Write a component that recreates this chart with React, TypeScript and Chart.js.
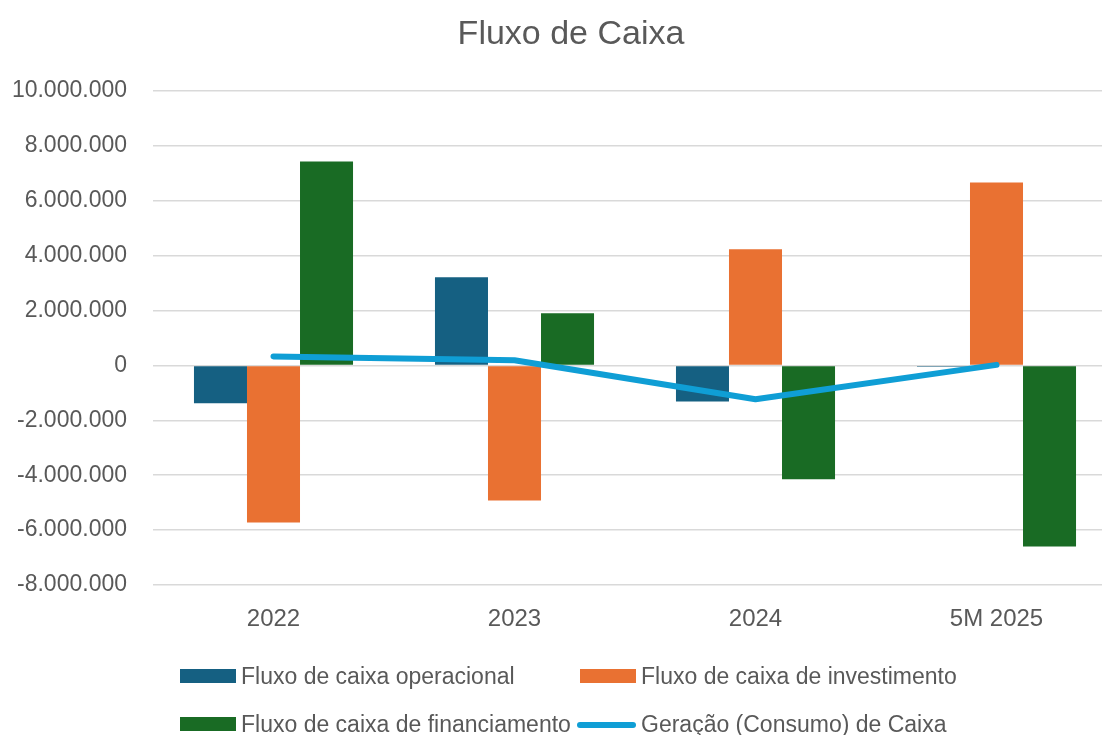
import React, { useEffect, useRef } from "react";
import { Chart, registerables } from "chart.js";

Chart.register(...registerables);

const categories = ["2022", "2023", "2024", "5M 2025"];
const operacional = [-1380000, 3210000, -1310000, -50000];
const investimento = [-5720000, -4920000, 4230000, 6670000];
const financiamento = [7430000, 1900000, -4150000, -6600000];
const geracao = [330000, 190000, -1230000, 20000];
const seriesNames = [
  "Fluxo de caixa operacional",
  "Fluxo de caixa de investimento",
  "Fluxo de caixa de financiamento",
  "Geração (Consumo) de Caixa",
];
const chartTitle = "Fluxo de Caixa";
const yMin = -8000000;
const yMax = 10000000;
const yStep = 2000000;

const FONT = "'Liberation Sans', Arial, sans-serif";
const TEXT = "#595959";
const C_OP = "#156082";
const C_INV = "#E97132";
const C_FIN = "#196B24";
const C_LINE = "#0F9ED5";

function fmt(v: number): string {
  const s = Math.abs(v).toString().replace(/\B(?=(\d{3})+(?!\d))/g, ".");
  return (v < 0 ? "-" : "") + s;
}

export default function App() {
  const ref = useRef<HTMLCanvasElement | null>(null);
  useEffect(() => {
    if (!ref.current) return;
    const chart = new Chart(ref.current, {
      type: "bar",
      data: {
        labels: categories,
        datasets: [
          { type: "line", label: seriesNames[3], data: geracao, borderColor: C_LINE, backgroundColor: C_LINE, borderWidth: 6, pointRadius: 0, borderCapStyle: "round", borderJoinStyle: "round", order: 0 } as any,
          { label: seriesNames[0], data: operacional, backgroundColor: C_OP, order: 1 },
          { label: seriesNames[1], data: investimento, backgroundColor: C_INV, order: 1 },
          { label: seriesNames[2], data: financiamento, backgroundColor: C_FIN, order: 1 },
        ],
      },
      options: {
        animation: false,
        responsive: false,
        devicePixelRatio: 1,
        datasets: { bar: { barPercentage: 1, categoryPercentage: 0.66 } },
        layout: { padding: { left: 0, right: 23, top: 91, bottom: 0 } },
        plugins: {
          legend: { display: false },
          tooltip: { enabled: false },
          title: { display: false },
        },
        scales: {
          x: {
            grid: { display: false, drawTicks: false },
            border: { display: false },
            ticks: { color: TEXT, font: { family: FONT, size: 24 }, padding: 20 },
            afterFit: (s: any) => { s.height = 150; },
          },
          y: {
            min: yMin,
            max: yMax,
            grid: { color: "#D9D9D9", lineWidth: 1.5, drawTicks: false },
            border: { display: false },
            ticks: {
              stepSize: yStep,
              color: TEXT,
              font: { family: FONT, size: 23 },
              padding: 26,
              callback: (v: any) => fmt(Number(v)),
            },
            afterFit: (s: any) => { s.width = 153; },
          },
        },
      },
    });
    return () => chart.destroy();
  }, []);

  const textStyle: React.CSSProperties = {
    position: "absolute",
    fontFamily: FONT,
    fontSize: 23,
    color: TEXT,
    lineHeight: "28px",
    whiteSpace: "nowrap",
  };
  const box = (x: number, y: number, c: string): React.CSSProperties => ({
    position: "absolute", left: x, top: y, width: 56, height: 14, background: c,
  });

  return (
    <div style={{ position: "fixed", left: 0, top: 0, width: 1102, height: 735, overflow: "hidden", background: "#fff" }}>
      <div style={{ position: "relative", width: 1140, height: 735 }}>
        <canvas ref={ref} width={1140} height={735} style={{ display: "block" }} />
        <div style={{ position: "absolute", left: 0, width: 1142, top: 12, textAlign: "center", fontFamily: FONT, fontSize: 34, lineHeight: "40px", color: TEXT, whiteSpace: "nowrap" }}>{chartTitle}</div>
        <div style={box(180, 669, C_OP)} />
        <div style={{ ...textStyle, left: 241, top: 662 }}>{seriesNames[0]}</div>
        <div style={box(580, 669, C_INV)} />
        <div style={{ ...textStyle, left: 641, top: 662 }}>{seriesNames[1]}</div>
        <div style={box(180, 717, C_FIN)} />
        <div style={{ ...textStyle, left: 241, top: 710 }}>{seriesNames[2]}</div>
        <div style={{ position: "absolute", left: 577, top: 722, width: 59, height: 6, borderRadius: 3, background: C_LINE }} />
        <div style={{ ...textStyle, left: 641, top: 710 }}>{seriesNames[3]}</div>
      </div>
    </div>
  );
}
